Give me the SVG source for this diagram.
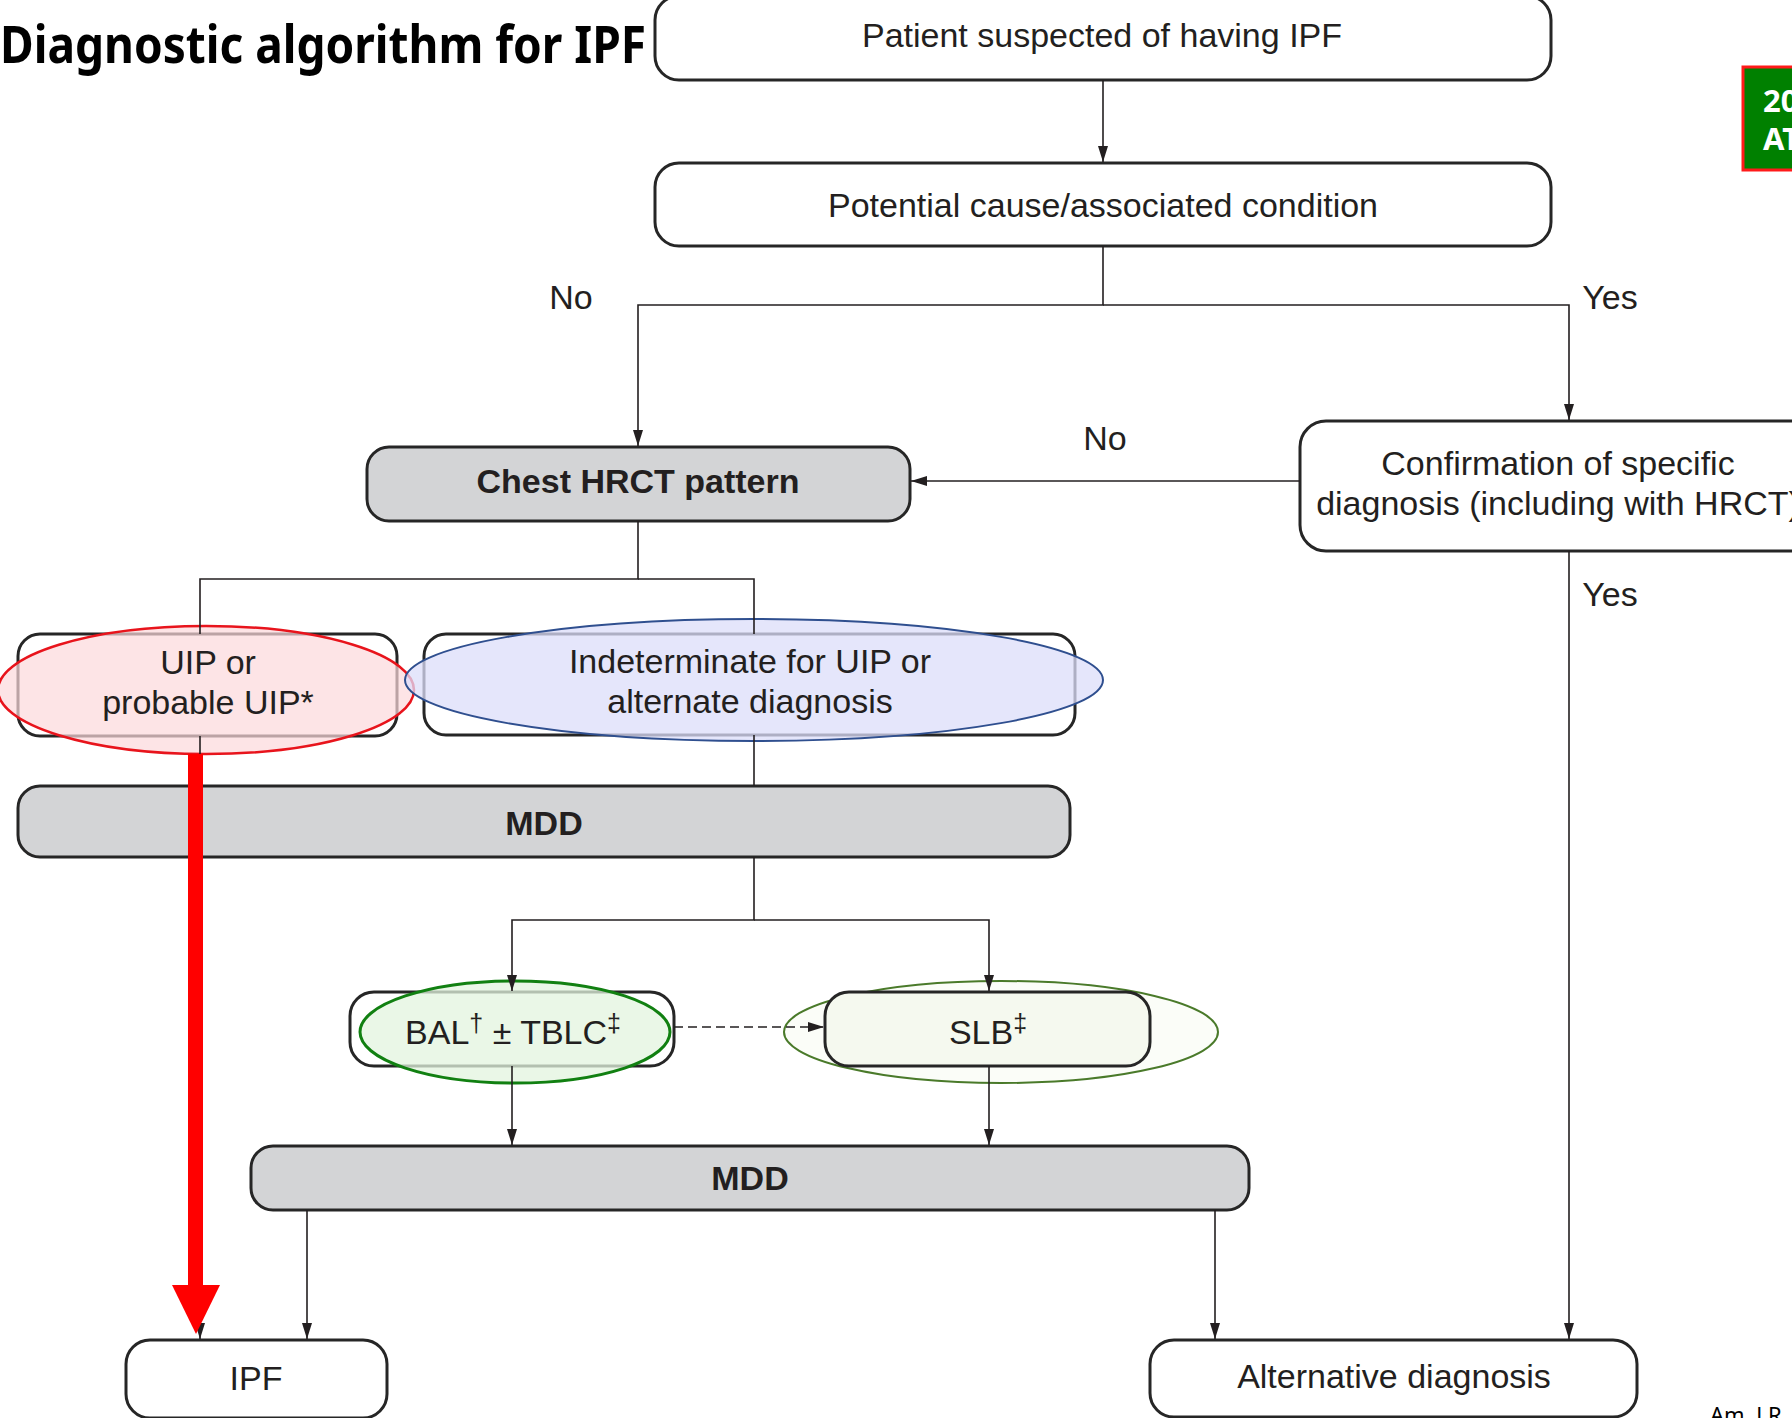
<svg xmlns="http://www.w3.org/2000/svg" width="1792" height="1418" viewBox="0 0 1792 1418">
  <style>
    .box { fill: #ffffff; stroke: #262626; stroke-width: 3; }
    .gray { fill: #d3d4d6; stroke: #262626; stroke-width: 3; }
    .lbl { font-family: "Liberation Sans", Arial, sans-serif; font-size: 34px; fill: #231f20; text-anchor: middle; }
    .bold { font-weight: bold; }
    .edge { fill: none; stroke: #231f20; stroke-width: 1.6; }
    .dash { stroke-dasharray: 9 5; }
    .sup { font-size: 25px; }
  </style>
  <defs>
    <marker id="arr" viewBox="0 0 16 10" refX="16" refY="5" markerWidth="16" markerHeight="10" orient="auto" markerUnits="userSpaceOnUse">
      <path d="M0,0 L16,5 L0,10 z" fill="#231f20"/>
    </marker>
  </defs>

  <rect width="1792" height="1418" fill="#ffffff"/>

  <!-- heading -->
  <text x="0" y="63" font-family="'Noto Sans', 'Open Sans', sans-serif" font-weight="700" font-size="52" fill="#000" textLength="646" lengthAdjust="spacingAndGlyphs">Diagnostic algorithm for IPF</text>

  <g id="patient">
    <rect class="box" x="655" y="-4" width="896" height="84" rx="24"/>
    <text class="lbl" x="1102" y="47">Patient suspected of having IPF</text>
  </g>

  <g id="cause">
    <rect class="box" x="655" y="163" width="896" height="83" rx="24"/>
    <text class="lbl" x="1103" y="217">Potential cause/associated condition</text>
  </g>

  <g id="hrct">
    <rect class="gray" x="367" y="447" width="543" height="74" rx="22"/>
    <text class="lbl bold" x="638" y="493">Chest HRCT pattern</text>
  </g>

  <g id="confirmation">
    <rect class="box" x="1300" y="421" width="520" height="130" rx="26"/>
    <text class="lbl" x="1558" y="475">Confirmation of specific</text>
    <text class="lbl" x="1558" y="515">diagnosis (including with HRCT)</text>
  </g>

  <g id="uip">
    <rect class="box" x="18" y="634" width="379" height="102" rx="22"/>
    <ellipse cx="206" cy="690" rx="208" ry="64" fill="#fcd9db" fill-opacity="0.7" stroke="#e8141c" stroke-width="2.5"/>
    <text class="lbl" x="208" y="674">UIP or</text>
    <text class="lbl" x="208" y="714">probable UIP*</text>
  </g>

  <g id="indeterminate">
    <rect class="box" x="424" y="634" width="651" height="101" rx="22"/>
    <ellipse cx="754" cy="680" rx="349" ry="61" fill="#dcdefa" fill-opacity="0.75" stroke="#2f4f8f" stroke-width="2"/>
    <text class="lbl" x="750" y="673">Indeterminate for UIP or</text>
    <text class="lbl" x="750" y="713">alternate diagnosis</text>
  </g>

  <g id="mdd1">
    <rect class="gray" x="18" y="786" width="1052" height="71" rx="22"/>
    <text class="lbl bold" x="544" y="835">MDD</text>
  </g>

  <g id="bal">
    <rect class="box" x="350" y="992" width="324" height="74" rx="24"/>
    <ellipse cx="515" cy="1032" rx="155" ry="51" fill="#e3f4df" fill-opacity="0.75" stroke="#118011" stroke-width="3"/>
    <text class="lbl" x="513" y="1044">BAL<tspan class="sup" dy="-12">†</tspan><tspan dy="12"> ± TBLC</tspan><tspan class="sup" dy="-12">‡</tspan></text>
  </g>

  <g id="slb">
    <ellipse cx="1001" cy="1032" rx="217" ry="51" fill="#fbfdf8" stroke="#4a7a2a" stroke-width="2"/>
    <rect x="825" y="992" width="325" height="74" rx="24" fill="#f5f9ef" stroke="#262626" stroke-width="3"/>
    <text class="lbl" x="988" y="1044">SLB<tspan class="sup" dy="-12">‡</tspan></text>
  </g>

  <g id="mdd2">
    <rect class="gray" x="251" y="1146" width="998" height="64" rx="22"/>
    <text class="lbl bold" x="750" y="1190">MDD</text>
  </g>

  <g id="ipf">
    <rect class="box" x="126" y="1340" width="261" height="78" rx="24"/>
    <text class="lbl" x="256" y="1390">IPF</text>
  </g>

  <g id="alternative">
    <rect class="box" x="1150" y="1340" width="487" height="77" rx="24"/>
    <text class="lbl" x="1394" y="1388">Alternative diagnosis</text>
  </g>

  <!-- connectors, drawn over the node shapes -->
  <g id="connectors">
    <line class="edge" x1="1103" y1="80" x2="1103" y2="162" marker-end="url(#arr)"/>
    <polyline class="edge" points="1103,246 1103,305 638,305 638,446" marker-end="url(#arr)"/>
    <polyline class="edge" points="1103,305 1569,305 1569,420" marker-end="url(#arr)"/>
    <line class="edge" x1="1300" y1="481" x2="911" y2="481" marker-end="url(#arr)"/>
    <line class="edge" x1="1569" y1="551" x2="1569" y2="1339" marker-end="url(#arr)"/>
    <polyline class="edge" points="638,521 638,579 200,579 200,634"/>
    <polyline class="edge" points="638,579 754,579 754,634"/>
    <line class="edge" x1="200" y1="736" x2="200" y2="786"/>
    <line class="edge" x1="754" y1="735" x2="754" y2="786"/>
    <line class="edge" x1="200" y1="857" x2="200" y2="1339" marker-end="url(#arr)"/>
    <polyline class="edge" points="754,857 754,920 512,920 512,991" marker-end="url(#arr)"/>
    <polyline class="edge" points="754,920 989,920 989,991" marker-end="url(#arr)"/>
    <line class="edge dash" x1="674" y1="1027" x2="824" y2="1027" marker-end="url(#arr)"/>
    <line class="edge" x1="512" y1="1066" x2="512" y2="1145" marker-end="url(#arr)"/>
    <line class="edge" x1="989" y1="1066" x2="989" y2="1145" marker-end="url(#arr)"/>
    <line class="edge" x1="307" y1="1210" x2="307" y2="1339" marker-end="url(#arr)"/>
    <line class="edge" x1="1215" y1="1210" x2="1215" y2="1339" marker-end="url(#arr)"/>
    <text class="lbl" x="571" y="309">No</text>
    <text class="lbl" x="1610" y="309">Yes</text>
    <text class="lbl" x="1105" y="450">No</text>
    <text class="lbl" x="1610" y="606">Yes</text>
  </g>

  <!-- highlighted direct path -->
  <g id="fast-path">
    <rect x="188" y="754" width="15" height="532" fill="#ff0000"/>
    <polygon points="172,1285 220,1285 196,1334" fill="#ff0000"/>
  </g>

  <g id="badge">
    <rect x="1743" y="67" width="60" height="103" fill="#008000" stroke="#ff1a1a" stroke-width="3"/>
    <text x="1763" y="112" font-family="'Noto Sans', 'Open Sans', sans-serif" font-weight="700" font-size="31" fill="#ffffff">20</text>
    <text x="1763" y="150" font-family="'Noto Sans', 'Open Sans', sans-serif" font-weight="700" font-size="31" fill="#ffffff">AT</text>
  </g>

  <text x="1710" y="1423" font-family="'Noto Sans', 'Open Sans', sans-serif" font-size="22" fill="#000">Am. J R</text>
</svg>
